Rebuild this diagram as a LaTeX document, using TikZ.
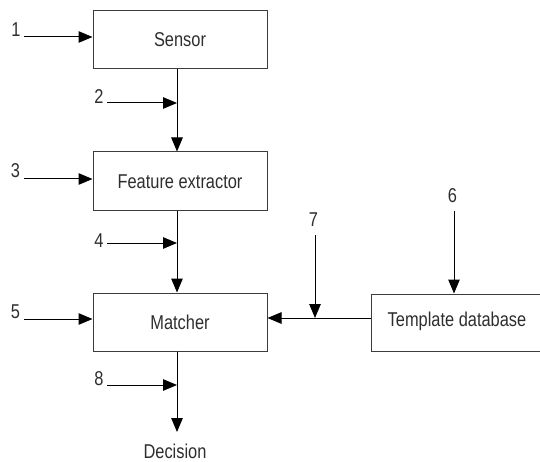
\documentclass[tikz,border=0pt]{standalone}
\usepackage{fontspec}
\setmainfont[FakeStretch=0.82]{Liberation Sans}
\usetikzlibrary{arrows.meta}
\definecolor{ink}{HTML}{2E2E2E}
\definecolor{frame}{HTML}{3C3C3C}
\begin{document}
\begin{tikzpicture}[x=1pt,y=-1pt,
  font=\fontsize{20}{22}\selectfont,
  block/.style={draw=frame,line width=1pt,minimum width=174pt,minimum height=58pt,
    inner sep=0pt,text=ink},
  lbl/.style={inner sep=0pt,text=ink},
  flow/.style={line width=1pt,-{Triangle[length=14pt,width=11.5pt]}},
  wire/.style={line width=1pt}]
\useasboundingbox (0,0) rectangle (540,462);

% processing blocks
\node[block] (sensor)  at (180,40)  {Sensor};
\node[block,minimum height=59pt] (feat) at (180,181.5) {Feature extractor};
\node[block] (matcher) at (180,322) {Matcher};
\node[block,minimum height=57pt,minimum width=176pt] (tdb) at (459,322.5) {};
\node[lbl] (tdbtext) at (457,321) {Template database};

% main signal column
\coordinate (col) at (177,0);
\coordinate (dec) at (177,432);
\draw[flow] (sensor.south -| col) -- (feat.north -| col);
\draw[flow] (feat.south -| col) -- (matcher.north -| col);
\draw[flow] (matcher.south -| col) -- (dec);
\node[lbl] (decision) at (175,451.5) {Decision};

% numbered attack points
\node[lbl] (n1) at (16,30) {1};
\coordinate (a1) at (24,37);
\draw[flow] (a1) -- (a1 -| sensor.west);

\node[lbl] (n2) at (99,96.5) {2};
\coordinate (a2) at (107,103);
\draw[flow] (a2) -- (a2 -| col);

\node[lbl] (n3) at (15.5,171) {3};
\coordinate (a3) at (24,179);
\draw[flow] (a3) -- (a3 -| feat.west);

\node[lbl] (n4) at (99,240.5) {4};
\coordinate (a4) at (107,243);
\draw[flow] (a4) -- (a4 -| col);

\node[lbl] (n5) at (15.5,311.5) {5};
\coordinate (a5) at (24,319);
\draw[flow] (a5) -- (a5 -| matcher.west);

\node[lbl] (n8) at (99,379) {8};
\coordinate (a8) at (107,385);
\draw[flow] (a8) -- (a8 -| col);

% template database link
\coordinate (link) at (0,318);
\draw[flow] (link -| tdb.west) -- (link -| matcher.east);

\node[lbl] (n7) at (313.5,220) {7};
\coordinate (a7) at (315,235);
\draw[flow] (a7) -- (a7 |- link);

\node[lbl] (n6) at (452.5,196) {6};
\coordinate (a6) at (454,211);
\draw[flow] (a6) -- (a6 |- tdb.north);
\end{tikzpicture}
\end{document}
